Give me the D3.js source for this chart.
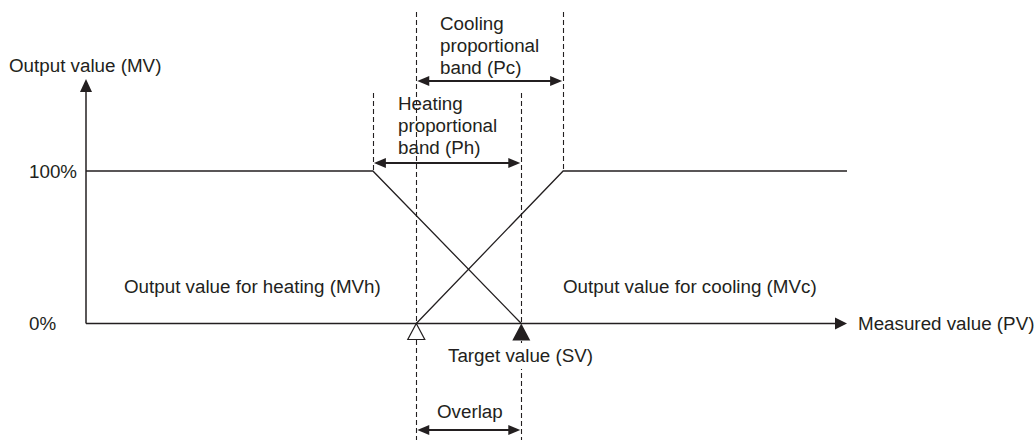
<!DOCTYPE html>
<html lang="en">
<head>
    <meta charset="utf-8">
    <title>Heating / cooling output</title>
    <script src="https://d3js.org/d3.v7.min.js"></script>
    <style>
        body { margin: 0; background: #fff; }
        text { font-family: "Liberation Sans", Arial, sans-serif; font-size: 18.8px; fill: #231f20; }
    </style>
</head>
<body>
<svg id="g1"></svg>
<script>

    // measured value (PV) scale runs 0..100, output value (MV) 0..100 %
    const tickValues = [0, 100];
    const tickLabels = ["0%", "100%"];

    // band edges on the PV scale
    const heatStart = 37.7,      // start of heating proportional band
          overlapStart = 43.4,   // start of cooling band / overlap
          targetSV = 57.2,       // target value (SV)
          coolEnd = 62.7;        // end of cooling proportional band

    const heating = [[0, 100], [heatStart, 100], [targetSV, 0]];
    const cooling = [[overlapStart, 0], [coolEnd, 100], [100, 100]];

    let width = 1034,
        height = 442,
        ink = "#231f20";

    let svg = d3.select("#g1")
            .attr("width", width)
            .attr("height", height);

    let x = d3.scaleLinear().domain([0, 100]).range([86, 847]);
    let y = d3.scaleLinear().domain([0, 100]).range([323.5, 171]);

    // dashed guide lines
    let guides = [
        {v: heatStart, y1: 93, y2: y(100)},
        {v: overlapStart, y1: 12, y2: 440},
        {v: targetSV, y1: 93, y2: 440},
        {v: coolEnd, y1: 12, y2: y(100)}
    ];
    svg.append("g")
            .selectAll("line")
            .data(guides)
            .enter().append("line")
            .attr("x1", d => Math.round(x(d.v)) + 0.5).attr("x2", d => Math.round(x(d.v)) + 0.5)
            .attr("y1", d => d.y1).attr("y2", d => d.y2)
            .attr("stroke", ink)
            .attr("stroke-width", 1.1)
            .attr("stroke-dasharray", "5,3");

    // axes
    svg.append("line")
            .attr("x1", x(0)).attr("x2", x(0))
            .attr("y1", y(0)).attr("y2", 90)
            .attr("stroke", ink).attr("stroke-width", 1.5);
    svg.append("path")
            .attr("d", `M${x(0)},79 L${x(0) - 6},92 L${x(0) + 6},92 Z`)
            .attr("fill", ink);

    svg.append("line")
            .attr("x1", x(0)).attr("x2", 836)
            .attr("y1", y(0)).attr("y2", y(0))
            .attr("stroke", ink).attr("stroke-width", 1.5);
    svg.append("path")
            .attr("d", `M${x(100)},${y(0)} L${x(100) - 12},${y(0) - 6} L${x(100) - 12},${y(0) + 6} Z`)
            .attr("fill", ink);

    svg.append("g")
            .selectAll("text")
            .data(tickValues)
            .enter().append("text")
            .attr("x", 29)
            .attr("y", d => y(d) + 6.5)
            .text((d, i) => tickLabels[i]);

    // output lines
    let line = d3.line().x(d => x(d[0])).y(d => y(d[1]));
    svg.selectAll(".mv")
            .data([heating, cooling])
            .enter().append("path")
            .attr("class", "mv")
            .attr("d", line)
            .attr("fill", "none")
            .attr("stroke", ink)
            .attr("stroke-width", 1.3);

    // markers on PV axis
    svg.append("path")
            .attr("d", `M${x(overlapStart)},${y(0)} L${x(overlapStart) - 8.5},${y(0) + 16} L${x(overlapStart) + 8.5},${y(0) + 16} Z`)
            .attr("fill", "#fff").attr("stroke", ink).attr("stroke-width", 1.2);
    svg.append("path")
            .attr("d", `M${x(targetSV)},${y(0)} L${x(targetSV) - 9},${y(0) + 17} L${x(targetSV) + 9},${y(0) + 17} Z`)
            .attr("fill", ink);

    // double arrows for the bands
    function dimArrow(a, b, yy) {
        let g = svg.append("g");
        g.append("line")
                .attr("x1", x(a) + 10).attr("x2", x(b) - 10)
                .attr("y1", yy).attr("y2", yy)
                .attr("stroke", ink).attr("stroke-width", 2);
        g.append("path")
                .attr("d", `M${x(a) + 1},${yy} L${x(a) + 13},${yy - 5} L${x(a) + 13},${yy + 5} Z`)
                .attr("fill", ink);
        g.append("path")
                .attr("d", `M${x(b) - 1},${yy} L${x(b) - 13},${yy - 5} L${x(b) - 13},${yy + 5} Z`)
                .attr("fill", ink);
    }
    dimArrow(overlapStart, coolEnd, 81);
    dimArrow(heatStart, targetSV, 163);
    dimArrow(overlapStart, targetSV, 430);

    // labels
    function label(lines, lx, ly, dy) {
        let t = svg.append("text").attr("x", lx).attr("y", ly);
        lines.forEach((s, i) => {
            t.append("tspan").attr("x", lx).attr("dy", i === 0 ? 0 : dy).text(s);
        });
        return t;
    }

    label(["Output value (MV)"], 9, 72);
    label(["Cooling", "proportional", "band (Pc)"], 440, 30, 22);
    label(["Heating", "proportional", "band (Ph)"], 398, 110, 22);
    label(["Output value for heating (MVh)"], 124, 293);
    label(["Output value for cooling (MVc)"], 563, 293);
    label(["Measured value (PV)"], 858, 329.5);

    svg.append("rect")
            .attr("x", 446).attr("y", 343)
            .attr("width", 150).attr("height", 26)
            .attr("fill", "#fff");
    label(["Target value (SV)"], 448, 362);
    label(["Overlap"], 437, 418);

</script>
</body>
</html>
